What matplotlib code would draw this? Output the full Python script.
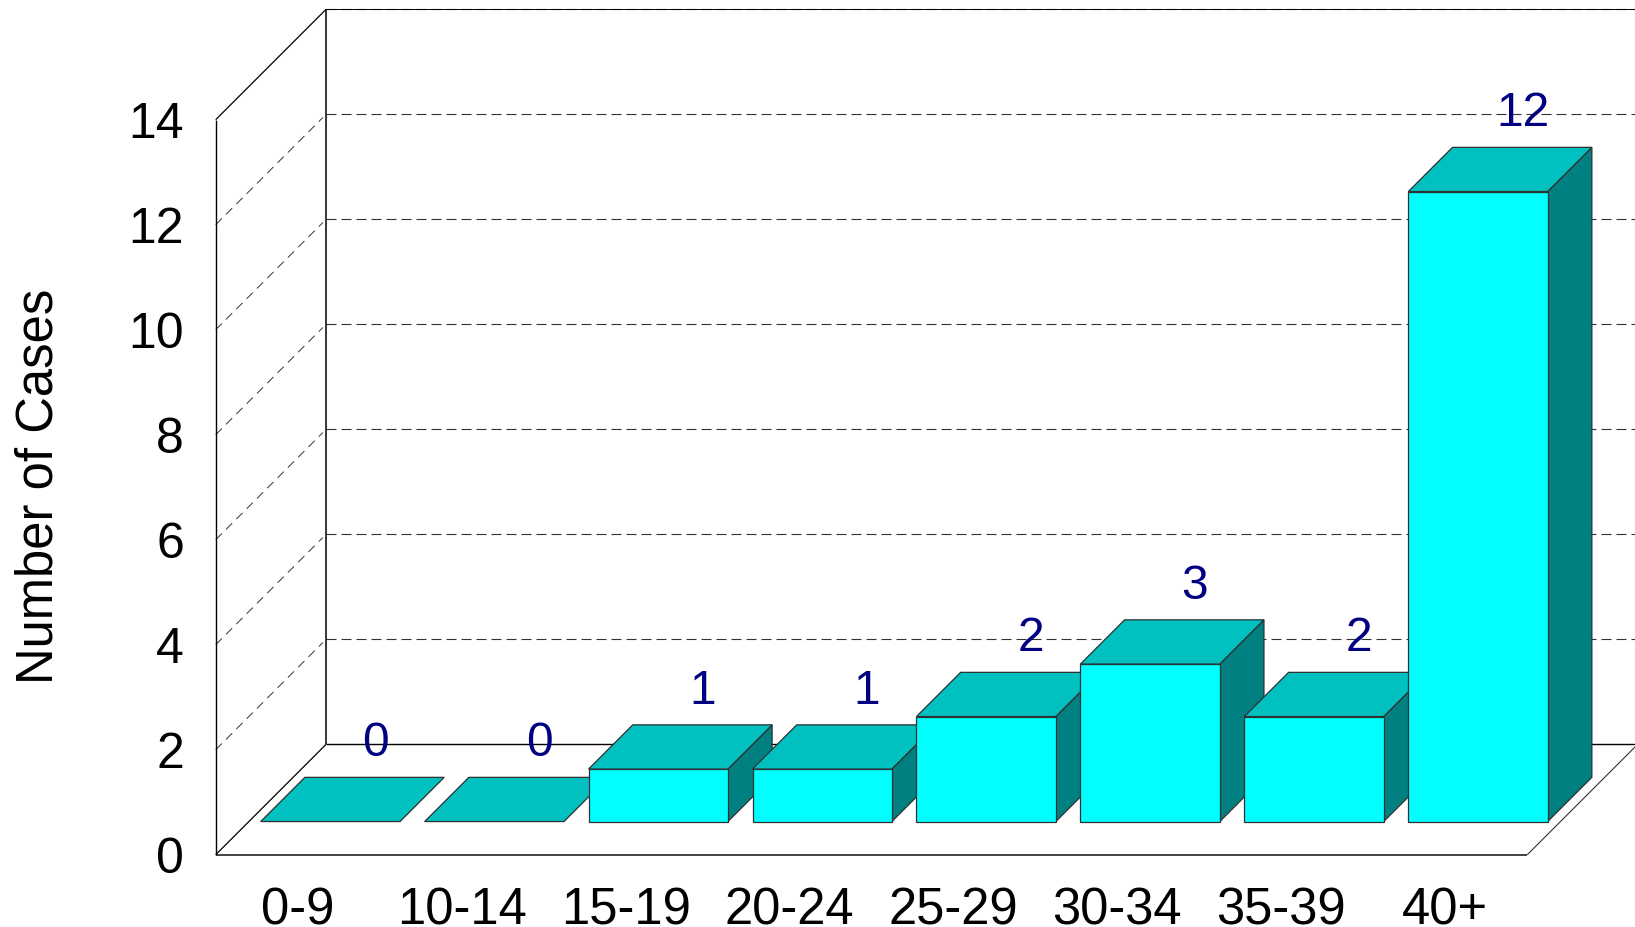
import matplotlib
matplotlib.use("Agg")
import matplotlib.pyplot as plt
from matplotlib.patches import Polygon

plt.rcParams["font.family"] = ["Liberation Sans", "DejaVu Sans"]

age_groups = ["0-9", "10-14", "15-19", "20-24", "25-29", "30-34", "35-39", "40+"]
cases = [0, 0, 1, 1, 2, 3, 2, 12]
y_ticks = [0, 2, 4, 6, 8, 10, 12, 14]

width_px, height_px = 1635, 928
left_px, floor_px = 215.7, 855.7
cat_px = 163.95
unit_px = 52.5
depth_px = 110.5

# depth d runs 0 (front of floor) to 1 (back wall)
depth_x = depth_px / cat_px
depth_y = depth_px / unit_px
bar_gap_l, bar_gap_r = 0.072, 0.078
bar_front, bar_back = 0.3, 0.7


def proj(x, y, d=0.0):
    return x + d * depth_x, y + d * depth_y


fig = plt.figure(figsize=(width_px / 100, height_px / 100), dpi=100)
ax = fig.add_axes([0, 0, 1, 1])
ax.set_xlim(-left_px / cat_px, (width_px - left_px) / cat_px)
ax.set_ylim(-(height_px - floor_px) / unit_px, floor_px / unit_px)
ax.axis("off")

n = len(age_groups)
top = y_ticks[-1]
wall = "#000000"
grid = "#333333"


def line(p0, p1, **kw):
    ax.plot([p0[0], p1[0]], [p0[1], p1[1]], solid_capstyle="butt", zorder=1, **kw)


# gridlines on the side and back walls
for v in y_ticks[1:]:
    if v < top:
        line(proj(0, v, 0), proj(0, v, 0.97), color=grid, lw=0.7, linestyle=(0, (9, 6)))
    line(proj(0, v, 1), proj(n, v, 1), color=grid, lw=0.8, linestyle=(0, (9, 4.5)))

# frame
line(proj(0, 0, 0), proj(n, 0, 0), color="#333333", lw=1.3)
line(proj(n, 0, 0), proj(n, 0, 1), color="#333333", lw=0.8)
line(proj(0, 0, 0), proj(0, 0, 1), color=wall, lw=0.9)
line(proj(0, 0, 1), proj(n, 0, 1), color=wall, lw=1.0)
line(proj(0, 0, 0), proj(0, top, 0), color=wall, lw=1.0)
line(proj(0, 0, 1), proj(0, top, 1), color=wall, lw=1.1)
line(proj(0, top, 0), proj(0, top, 1), color=wall, lw=0.9)
line(proj(0, top, 1), proj(n, top, 1), color=wall, lw=0.7)

# bars, left to right so each one hides the side of the one before
for i, v in enumerate(cases):
    x0 = i + bar_gap_l
    x1 = i + 1 - bar_gap_r
    style = dict(edgecolor="#303030", lw=0.9, joinstyle="miter", zorder=3 + i)
    if v > 0:
        ax.add_patch(Polygon([proj(x1, 0, bar_front), proj(x1, 0, bar_back),
                              proj(x1, v, bar_back), proj(x1, v, bar_front)],
                             facecolor="#008080", **style))
        ax.add_patch(Polygon([proj(x0, 0, bar_front), proj(x1, 0, bar_front),
                              proj(x1, v, bar_front), proj(x0, v, bar_front)],
                             facecolor="#00FFFF", **style))
    ax.add_patch(Polygon([proj(x0, v, bar_front), proj(x1, v, bar_front),
                          proj(x1, v, bar_back), proj(x0, v, bar_back)],
                         facecolor="#00C0C0", **style))

for i, v in enumerate(cases):
    lx, ly = proj(i + 0.5, v + 0.66, bar_back)
    ax.text(lx, ly, str(v), color="#000080", fontsize=34.5, ha="center", va="center", zorder=20)

for v in y_ticks:
    ax.text(-31.7 / cat_px, v - 4 / unit_px, str(v), color="black", fontsize=36, ha="right", va="center")

for i, name in enumerate(age_groups):
    ax.text(i + 0.5, -55 / unit_px, name, color="black", fontsize=36.5, ha="center", va="center")

ax.text(-176.5 / cat_px, (floor_px - 486.5) / unit_px, "Number of Cases", color="black", fontsize=36.5,
        rotation=90, ha="center", va="center")

fig.savefig("out.png", dpi=100)
